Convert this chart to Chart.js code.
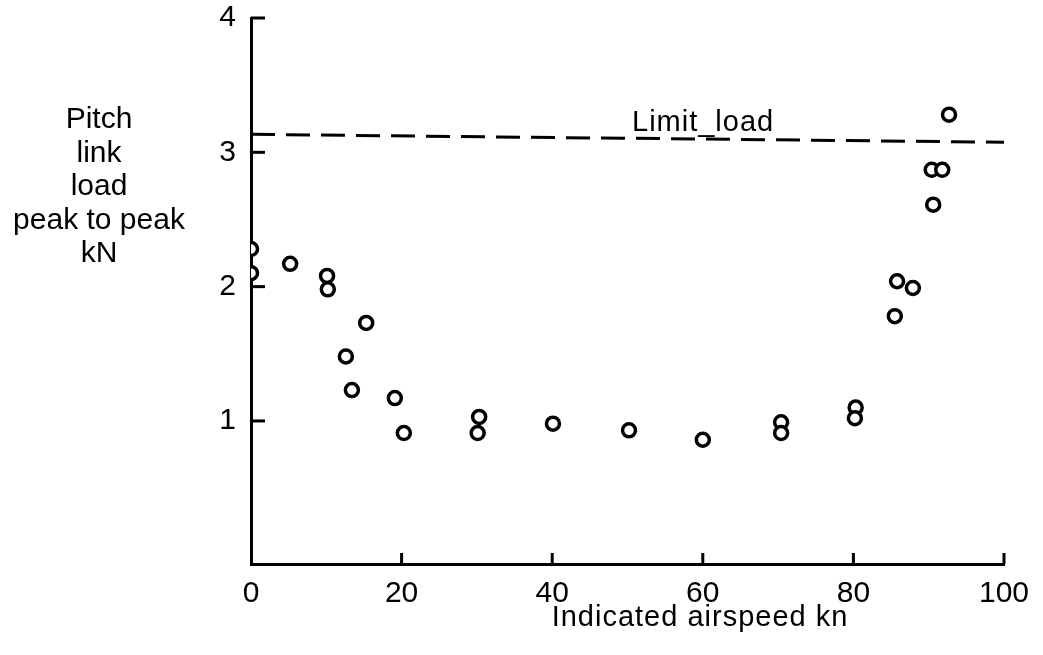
<!DOCTYPE html>
<html>
<head>
<meta charset="utf-8">
<script src="https://cdn.jsdelivr.net/npm/chart.js@4.4.1/dist/chart.umd.min.js"></script>
<style>
    html, body { margin: 0; padding: 0; background: #fff; }
    #wrap { width: 1043px; height: 655px; }
</style>
</head>
<body>
<div id="wrap"><canvas id="loadChart"></canvas></div>
<script>
// ------------------------------------------------------------------
// Data
// ------------------------------------------------------------------
const airspeed = [0, 0, 5.2, 10.1, 10.2, 12.6, 13.4, 15.3, 19.1, 20.3,
    30.3, 30.1, 40.1, 50.2, 60.0, 70.4, 70.4, 80.3, 80.2,
    85.5, 85.8, 87.9, 90.4, 90.6, 91.8, 92.7];
const pitchLoad = [2.28, 2.10, 2.17, 2.08, 1.98, 1.48, 1.23, 1.73, 1.17, 0.91,
    1.03, 0.91, 0.98, 0.93, 0.86, 0.99, 0.91, 1.10, 1.02,
    1.78, 2.04, 1.99, 2.87, 2.61, 2.87, 3.28];

// the dashed limit line is drawn slightly sloped in the original
const limitX = [0, 100];
const limitLoad = [3.134, 3.075];

const xTicks = [0, 20, 40, 60, 80, 100];
const yTicks = [1, 2, 3, 4];

const yTitleLines = ['Pitch', 'link', 'load', 'peak to peak', 'kN'];
const xTitle = 'Indicated airspeed kn';
const limitText = 'Limit_load';

const FONT = "'Liberation Sans', Arial, sans-serif";

function to_points(xs, ys) {
    return xs.map((x, i) => ({ x, y: ys[i] }));
}

// ------------------------------------------------------------------
// Extra drawing: inward ticks, titles, limit label
// ------------------------------------------------------------------
const decorations = {
    id: 'decorations',
    afterDraw(chart) {
        const { ctx, scales: { x, y } } = chart;
        ctx.save();
        ctx.strokeStyle = '#000';
        ctx.lineWidth = 3;
        ctx.lineCap = 'butt';

        // y ticks point into the plot
        yTicks.forEach(v => {
            const py = y.getPixelForValue(v);
            ctx.beginPath();
            ctx.moveTo(x.left, py);
            ctx.lineTo(x.left + 14, py);
            ctx.stroke();
        });
        // x ticks point up
        xTicks.forEach(v => {
            if (v === 0) return;
            const px = x.getPixelForValue(v);
            ctx.beginPath();
            ctx.moveTo(px, y.bottom);
            ctx.lineTo(px, y.bottom - 11);
            ctx.stroke();
        });

        ctx.fillStyle = '#000';
        ctx.textBaseline = 'alphabetic';

        // y title, stacked lines
        ctx.font = `30px ${FONT}`;
        ctx.textAlign = 'center';
        yTitleLines.forEach((line, i) => {
            ctx.fillText(line, 99, 128 + i * 33.5);
        });

        // x title
        ctx.font = `29px ${FONT}`;
        ctx.letterSpacing = '1px';
        ctx.fillText(xTitle, 700, 626);

        // limit load label, just above the dashed line
        ctx.textAlign = 'left';
        ctx.font = `29px ${FONT}`;
        ctx.fillText(limitText, x.getPixelForValue(50.6), y.getPixelForValue(3.16));
        ctx.restore();
    },
};

// ------------------------------------------------------------------
// Chart
// ------------------------------------------------------------------
new Chart(document.getElementById('loadChart'), {
    type: 'scatter',
    data: {
        datasets: [
            {
                label: 'Limit load',
                type: 'line',
                data: to_points(limitX, limitLoad),
                borderColor: '#000',
                borderWidth: 3,
                borderDash: [24, 11],
                pointRadius: 0,
                fill: false,
            },
            {
                label: 'Pitch link load',
                data: to_points(airspeed, pitchLoad),
                pointStyle: 'circle',
                pointRadius: 6.5,
                pointBorderWidth: 3.5,
                pointBorderColor: '#000',
                pointBackgroundColor: '#fff',
            },
            {
                label: 'centre dots',
                data: to_points(airspeed, pitchLoad),
                pointStyle: 'circle',
                pointRadius: 1.5,
                pointBorderWidth: 0,
                pointBackgroundColor: '#000',
            },
        ],
    },
    options: {
        responsive: true,
        maintainAspectRatio: false,
        animation: false,
        layout: { padding: { top: 18, right: 39, left: 0, bottom: 0 } },
        scales: {
            x: {
                type: 'linear',
                min: 0,
                max: 100,
                afterBuildTicks: s => { s.ticks = xTicks.map(v => ({ value: v })); },
                afterFit: s => {
                    s.height = 91;
                    s.paddingLeft = 0;
                    s.paddingRight = 0;
                },
                grid: { display: false, drawTicks: false },
                border: { display: true, color: '#000', width: 3 },
                ticks: {
                    color: '#000',
                    padding: 12,
                    maxRotation: 0,
                    font: { family: FONT, size: 30 },
                },
            },
            y: {
                type: 'linear',
                min: -0.065,
                max: 4,
                afterBuildTicks: s => { s.ticks = yTicks.map(v => ({ value: v })); },
                afterFit: s => {
                    s.width = 251;
                    s.paddingTop = 0;
                    s.paddingBottom = 0;
                },
                grid: { display: false, drawTicks: false },
                border: { display: true, color: '#000', width: 3 },
                ticks: {
                    color: '#000',
                    padding: 15,
                    font: { family: FONT, size: 30 },
                },
            },
        },
        plugins: {
            legend: { display: false },
            tooltip: { enabled: false },
        },
    },
    plugins: [decorations],
});
</script>
</body>
</html>
